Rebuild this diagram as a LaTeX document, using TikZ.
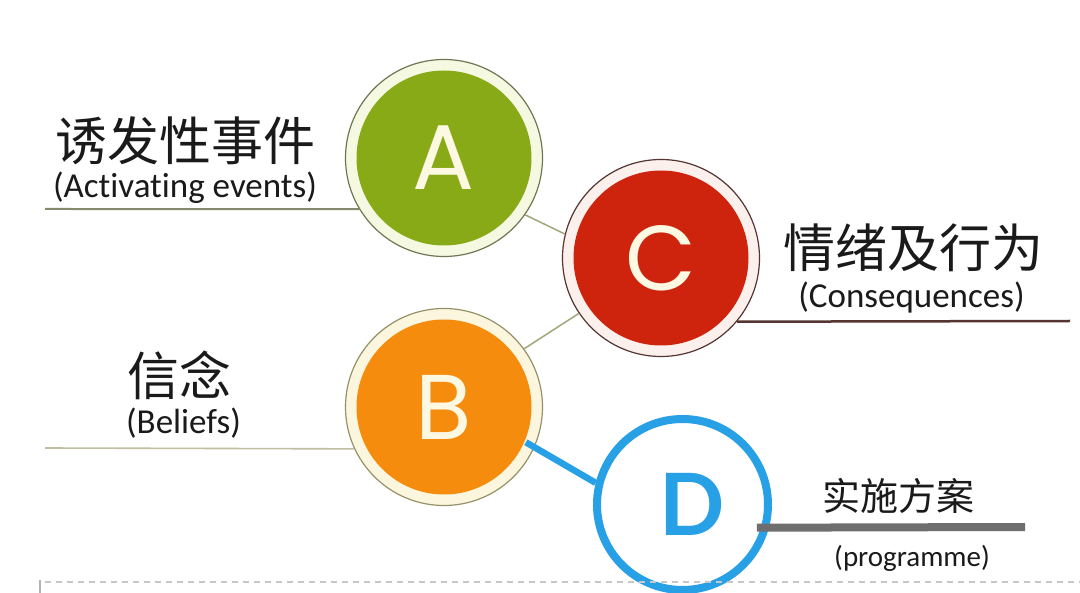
\documentclass[tikz,border=0pt]{standalone}
\usepackage{fontspec}
\setmainfont{Carlito}[Ligatures=NoCommon]
\newfontfamily\cjk{Noto Sans CJK SC}
\newfontfamily\letterfont{Poppins}
\newfontfamily\dfont{Lato}
\definecolor{Afill}{RGB}{136,170,22}
\definecolor{Aring}{RGB}{246,249,226}
\definecolor{Aline}{RGB}{112,118,82}
\definecolor{Bfill}{RGB}{246,140,14}
\definecolor{Bring}{RGB}{252,246,222}
\definecolor{Bline}{RGB}{150,146,104}
\definecolor{Cfill}{RGB}{206,36,14}
\definecolor{Cring}{RGB}{252,240,236}
\definecolor{Cline}{RGB}{86,52,50}
\definecolor{dblue}{RGB}{40,160,230}
\definecolor{letterc}{RGB}{252,248,226}
\definecolor{inkc}{RGB}{26,26,26}
\definecolor{linkc}{RGB}{162,166,122}
\definecolor{barc}{RGB}{110,110,110}
\tikzset{
  ball/.style={circle, inner sep=0pt, minimum size=197pt, line width=1.2pt,
    draw=#1line, fill=#1ring,
    path picture={\fill[#1fill] (path picture bounding box.center) circle (87.5pt);},
    text=letterc, font=\letterfont\fontsize{92}{92}\selectfont},
  cn/.style={inner sep=0pt, text=inkc, font=\cjk\fontsize{52}{52}\selectfont},
  en/.style={inner sep=0pt, text=inkc, font=\fontsize{35}{35}\selectfont},
}
\begin{document}
\begin{tikzpicture}[x=1pt, y=1pt]
	\path[use as bounding box, fill=white] (0,0) rectangle (1080,-593);
	\foreach \n/\p in {A/{444,-158}, C/{661,-258}, B/{444,-407}}
	{
		\node (\n)[ball=\n] at (\p) {\n};
	}
	\node (D)[circle, draw=dblue, line width=8pt, minimum size=171pt, inner sep=0pt, text=dblue,
		font=\dfont\bfseries\fontsize{86}{86}\selectfont] at (682.5,-504.5) {\kern19pt D};
	% texts
	\node (evt)[cn] at (186,-141) {诱发性事件};
	\node (evten)[en] at (185,-187.5) {(Activating events)};
	\node (emo)[cn] at (913,-248) {情绪及行为};
	\node (emoen)[en] at (911.5,-297.5) {(Consequences)};
	\node (bel)[cn] at (179,-375) {信念};
	\node (belen)[en] at (183.5,-423.5) {(Beliefs)};
	\node (plan)[cn, font=\cjk\fontsize{38}{38}\selectfont] at (898,-496) {实施方案};
	\node (planen)[en, font=\fontsize{29}{29}\selectfont] at (912,-558.5) {(programme)};
	% lines
	\coordinate (aend) at (45,-209);
	\coordinate (bend) at (45,-448);
	\coordinate (cend) at (1070,-321);
	\coordinate (dend) at (1025,-527);
	\draw[Aline!85, line width=2pt](aend)--(A.211);
	\draw[Bline!60, line width=1.6pt](bend)--(B.205);
	\draw[Cline, line width=2.5pt](C.-40)--(cend);
	\draw[linkc, line width=1.5pt](A.-35)--(C.166);
	\draw[linkc, line width=1.5pt](B.36)--(C.214);
	\draw[dblue, line width=6.5pt, shorten <=-10pt](B.-24)--(D.166);
	\draw[barc, line width=8pt, shorten <=-12pt](D.-15)--(dend);
	% bottom border
	\draw[black!22, line width=1.2pt, dash pattern=on 6pt off 5pt](45,-582)--(1080,-582);
	\draw[black!30, line width=1.5pt](40,-580)--(40,-593);
\end{tikzpicture}
\end{document}
